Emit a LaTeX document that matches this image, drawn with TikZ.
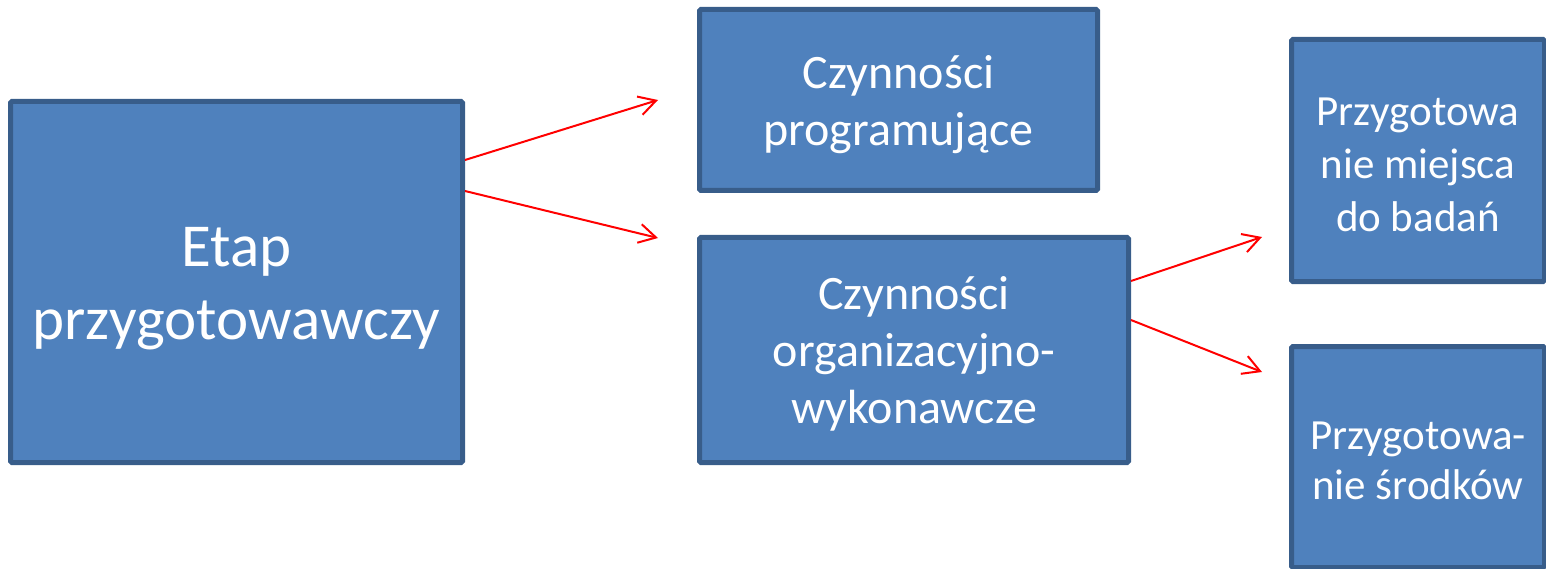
\documentclass[tikz,border=0pt]{standalone}
\usepackage{fontspec}
\setmainfont{Carlito}
\usetikzlibrary{arrows.meta,calc}
\definecolor{boxfill}{HTML}{4F81BD}
\definecolor{boxline}{HTML}{385D8A}
\begin{document}
\begin{tikzpicture}[x=1pt,y=-1pt,
  blk/.style={draw=boxline, fill=boxfill, line width=5pt, rectangle, rounded corners=1.5pt,
    inner sep=0pt, outer sep=0pt},
  lbl/.style={text=white, align=center, inner sep=0pt},
  arr/.style={draw=red, line width=2pt, -{Straight Barb[length=17pt,width=19pt,line width=2pt]}}]
\useasboundingbox (0,0) rectangle (1546,569);
\node[blk, minimum width=452pt, minimum height=361pt,
  label={[lbl, yshift=-7pt, font=\fontsize{61}{73}\selectfont]center:{Etap\\przygotowawczy}}] (A) at (236.5,282) {};
\node[blk, minimum width=398pt, minimum height=181pt,
  label={[lbl, yshift=-5pt, font=\fontsize{48}{57}\selectfont]center:{Czynności\\programujące}}] (B) at (898.5,100) {};
\node[blk, minimum width=429pt, minimum height=225pt,
  label={[lbl, yshift=-4pt, font=\fontsize{48}{57}\selectfont]center:{Czynności\\organizacyjno-\\wykonawcze}}] (C) at (914,350) {};
\node[blk, minimum width=253pt, minimum height=242pt,
  label={[lbl, yshift=-4pt, font=\fontsize{43}{53}\selectfont]center:{Przygotowa\\nie miejsca\\do badań}}] (D) at (1418,160.5) {};
\node[blk, minimum width=253pt, minimum height=221pt,
  label={[lbl, yshift=-4pt, font=\fontsize{43}{50}\selectfont]center:{Przygotowa-\\nie środków}}] (E) at (1418,457) {};
\coordinate (tAB) at (658,100);
\coordinate (tAC) at (658,238);
\coordinate (tCD) at (1262,237);
\coordinate (tCE) at (1262,372);
\draw[arr] ([yshift=122pt,xshift=2.5pt]A.east) -- (tAB);
\draw[arr] ([yshift=91pt,xshift=2.5pt]A.east) -- (tAC);
\draw[arr] ([yshift=69pt,xshift=2.5pt]C.east) -- (tCD);
\draw[arr] ([yshift=30pt,xshift=2.5pt]C.east) -- (tCE);
\end{tikzpicture}
\end{document}
